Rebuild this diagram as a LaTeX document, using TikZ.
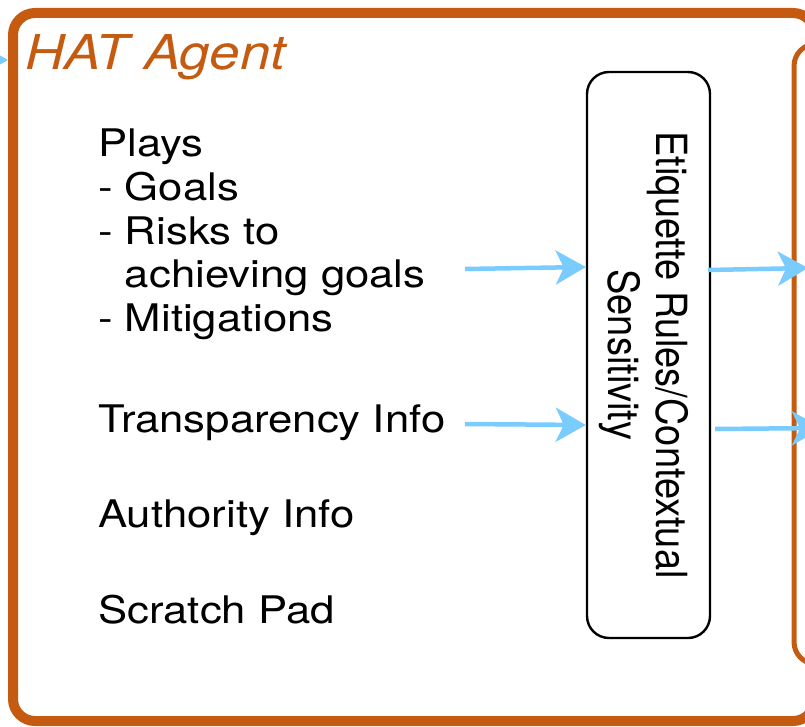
\documentclass[tikz,border=0pt]{standalone}
\usepackage{fontspec}
\setmainfont{TeX Gyre Heros}
\usetikzlibrary{arrows.meta}
\definecolor{hatorange}{RGB}{197,90,17}
\definecolor{flowblue}{RGB}{122,204,255}

\begin{document}
\begin{tikzpicture}[x=1pt,y=-1pt,
  frame/.style={draw=hatorange, rounded corners=22pt, inner sep=0pt},
  rulebox/.style={draw=black, line width=2.4pt, rounded corners=22pt,
    minimum width=123pt, minimum height=566pt, inner sep=0pt},
  txt/.style={font=\fontsize{38}{43.5}\selectfont, anchor=base west,
    inner sep=0pt, xscale=1.15},
  flow/.style={draw=flowblue, line width=4.5pt,
    -{Stealth[length=30pt 0, width=34pt 0, inset=8pt 0]}},
]
\useasboundingbox (0,0) rectangle (805,727);
\clip (0,0) rectangle (805,727);
\fill[white] (0,0) rectangle (805,727);

% helper points for free connector ends
\coordinate (in0) at (-40,60);
\coordinate (s1) at (465,269);
\coordinate (s2) at (465,424);
\coordinate (t1) at (0,267);
\coordinate (t2) at (0,425);
\coordinate (u1) at (0,270);
\coordinate (u2) at (0,429);
\coordinate (e1) at (808,268);
\coordinate (e2) at (822,428);

% outer agent frame and the neighbouring block on the right
\node[frame, line width=10pt, minimum width=802pt, minimum height=708pt] (agent) at (414,367) {};
\node[frame, line width=5pt, minimum width=200pt, minimum height=620pt] (inner) at (894,354) {};

% incoming flow into the agent
\draw[flow] (in0) -- (agent.west |- in0);

% title
\node[txt, font=\fontsize{48}{52}\selectfont\itshape, text=hatorange, xscale=1.14/1.15] (title) at (25,70) {HAT Agent};

% knowledge items
\node[txt] (plays) at (98,157) {Plays};
\node[txt] (goals) at (98,200.5) {- Goals};
\node[txt] (risks) at (98,244) {- Risks to};
\node[txt] (achieving) at (98,287.5) {\hphantom{- }achieving goals};
\node[txt] (mitig) at (98,331) {- Mitigations};
\node[txt] (transp) at (98,432) {Transparency Info};
\node[txt] (auth) at (98,527) {Authority Info};
\node[txt] (scratch) at (98,623) {Scratch Pad};

% etiquette rules box with vertical text
\node[rulebox] (etq) at (648.5,355) {};
\node[font=\fontsize{38}{43}\selectfont, align=center, inner sep=0pt,
      xscale=1.13, rotate=-90] (etqtext) at (644,355)
      {Etiquette Rules/Contextual\\Sensitivity};

% flows through the etiquette box
\draw[flow] (s1) -- (etq.west |- t1);
\draw[flow] (s2) -- (etq.west |- t2);
\draw[flow] ([xshift=-3pt]etq.east |- u1) -- (e1);
\draw[flow] ([xshift=4pt]etq.east |- u2) -- (e2);
\end{tikzpicture}
\end{document}
